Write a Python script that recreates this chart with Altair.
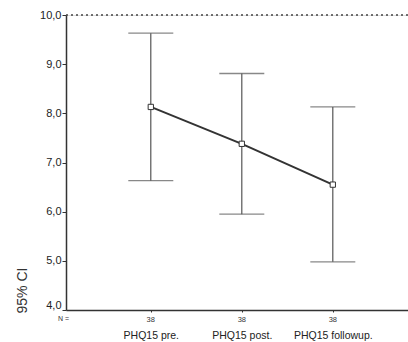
import altair as alt
import pandas as pd

# Mean PHQ15 score with 95% confidence interval at each time point
groups = ["PHQ15 pre.", "PHQ15 post.", "PHQ15 followup."]
means = [8.13, 7.38, 6.55]
ci_low = [6.63, 5.95, 4.98]
ci_high = [9.63, 8.81, 8.13]
n_counts = [38, 38, 38]

df = pd.DataFrame({
    "group": groups,
    "mean": means,
    "lo": ci_low,
    "hi": ci_high,
    "n": [str(v) for v in n_counts],
})

FONT = "Liberation Sans"
INK = "#333333"
BAR = "#555555"

x_scale = alt.Scale(type="point", padding=0.879, align=0.53)

x_enc = alt.X(
    "group:N",
    sort=groups,
    scale=x_scale,
    axis=alt.Axis(
        title=None,
        labelFont=FONT,
        labelFontSize=10.5,
        labelColor="#222222",
        labelPadding=18,
        tickSize=2,
        tickColor=INK,
        domainColor=INK,
        domainWidth=1.5,
        labelAngle=0,
    ),
)

y_scale = alt.Scale(domain=[4, 10], nice=False, zero=False)

base = alt.Chart(df)

whisker = base.mark_rule(color=BAR, strokeWidth=1.2).encode(
    x=x_enc,
    y=alt.Y(
        "lo:Q",
        scale=y_scale,
        axis=alt.Axis(
            title="95% CI",
            values=[4, 5, 6, 7, 8, 9, 10],
            labelExpr="replace(format(datum.value, '.1f'), '.', ',')",
            labelFont=FONT,
            labelFontSize=11,
            labelColor="#222222",
            labelPadding=1,
            labelBaseline={"condition": {"test": "datum.value == 4", "value": "bottom"},
                           "value": "middle"},
            tickSize=4,
            tickColor=INK,
            domainColor=INK,
            domainWidth=1.5,
            grid=False,
            titleFont=FONT,
            titleFontSize=14,
            titleFontWeight="normal",
            titleColor="#333333",
            titleAlign="center",
            titleBaseline="middle",
            titleX=-44,
            titleY=275,
            titleAngle=270,
        ),
    ),
    y2="hi:Q",
)

cap_lo = base.mark_tick(orient="horizontal", size=45, thickness=1.3, color=BAR).encode(
    x=alt.X("group:N", sort=groups), y=alt.Y("lo:Q", scale=y_scale)
)
cap_hi = base.mark_tick(orient="horizontal", size=45, thickness=1.3, color=BAR).encode(
    x=alt.X("group:N", sort=groups), y=alt.Y("hi:Q", scale=y_scale)
)

trend = base.mark_line(color=INK, strokeWidth=2).encode(
    x=alt.X("group:N", sort=groups), y=alt.Y("mean:Q", scale=y_scale)
)
dots = base.mark_point(shape="square", filled=True, fill="white", stroke=INK,
                       strokeWidth=1, size=28, opacity=1).encode(
    x=alt.X("group:N", sort=groups), y=alt.Y("mean:Q", scale=y_scale)
)

top_ref = alt.Chart(pd.DataFrame({"v": [10]})).mark_rule(
    color="#444444", strokeDash=[2, 3], strokeWidth=1.3
).encode(y=alt.Y("v:Q", scale=y_scale))

n_text = base.mark_text(font=FONT, fontSize=7.5, color=INK, baseline="middle").encode(
    x=alt.X("group:N", sort=groups), y=alt.value(305), text="n:N"
)
n_label = alt.Chart(pd.DataFrame({"t": ["N ="]})).mark_text(
    font=FONT, fontSize=7, color=INK, align="left", baseline="middle"
).encode(x=alt.value(-8), y=alt.value(304), text="t:N")

chart = alt.layer(top_ref, whisker, cap_lo, cap_hi, trend, dots, n_text, n_label).properties(
    width=342,
    height=295,
    padding={"left": 66, "top": 15, "right": 0, "bottom": 32},
    autosize=alt.AutoSizeParams(type="none"),
).configure_view(stroke=None).configure(background="white")

chart.save("out.html", embed_options={"renderer": "svg", "actions": False})
